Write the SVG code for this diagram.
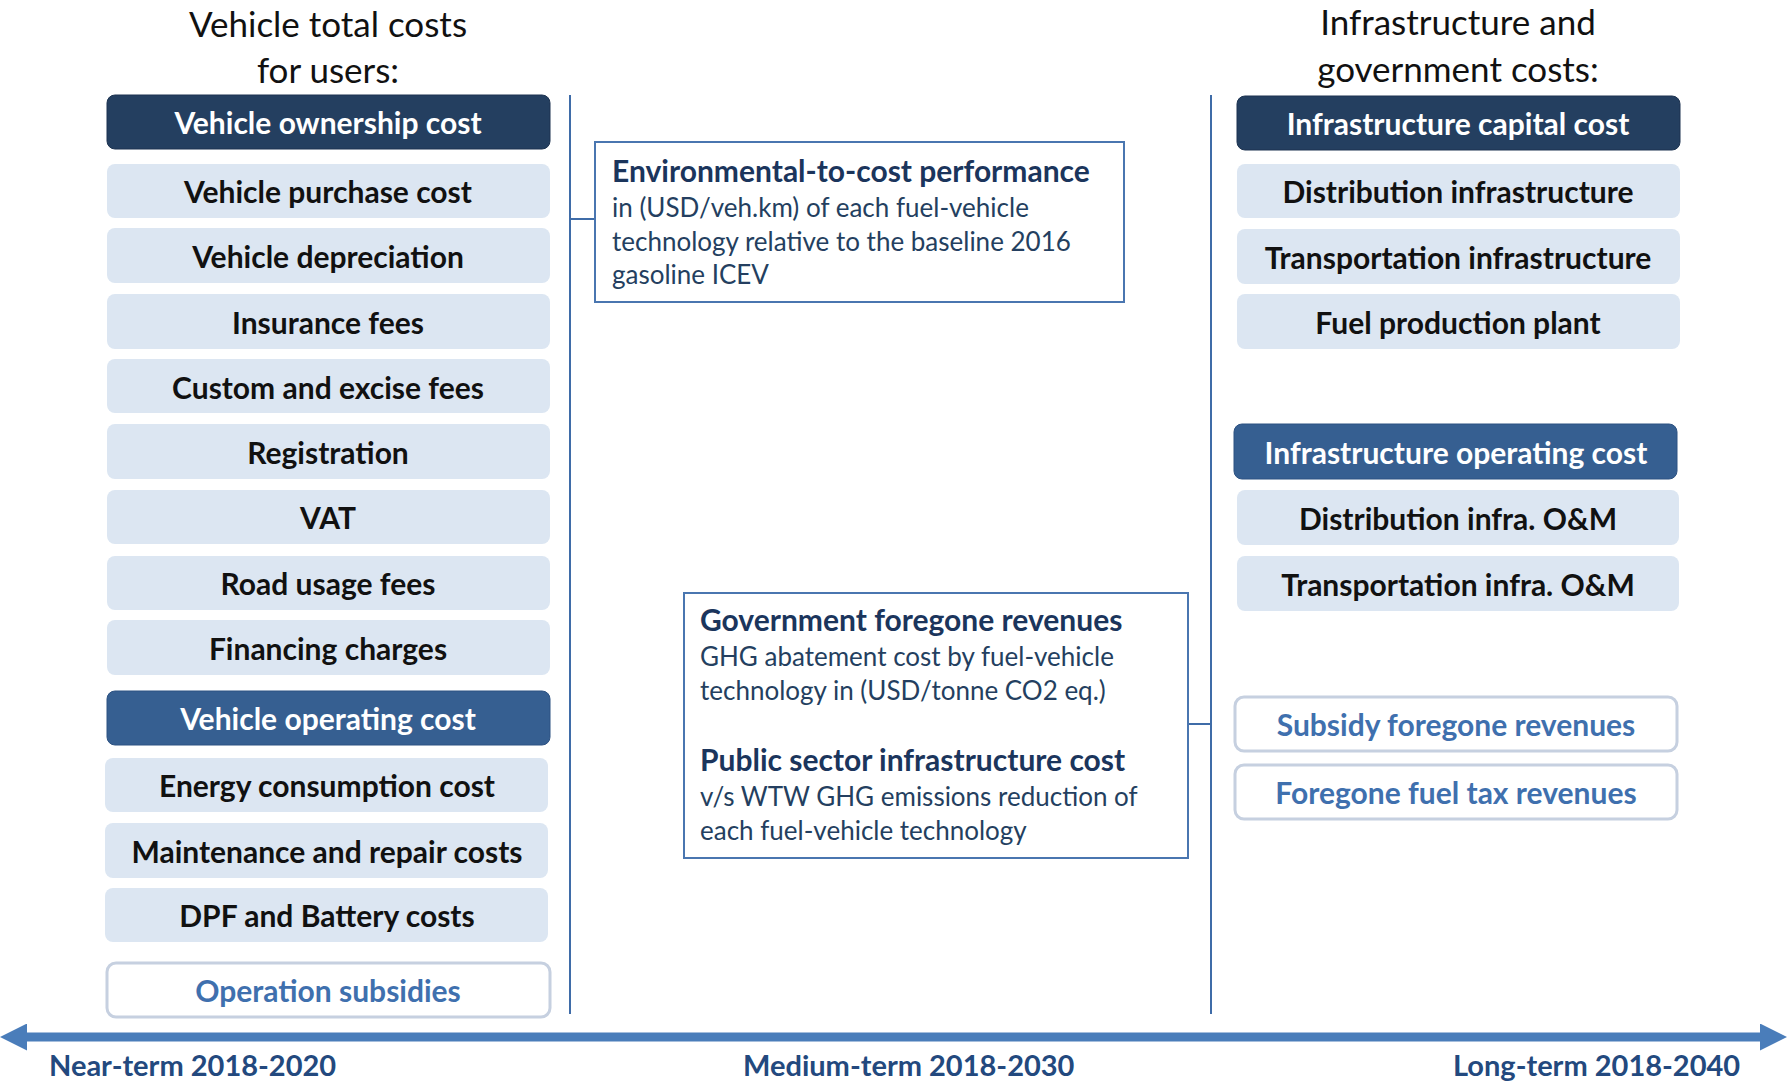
<svg xmlns="http://www.w3.org/2000/svg" width="1787" height="1081" viewBox="0 0 1787 1081">
  <style>
    text { font-family: Lato, "Open Sans", "Liberation Sans", sans-serif; }
    .title { font-size: 35px; fill: #111; text-anchor: middle; }
    .lbl { font-size: 30px; font-weight: 700; text-anchor: middle; dominant-baseline: central; }
    .dark rect { fill: #243f60; stroke: #1d3350; stroke-width: 1; }
    .mid rect { fill: #365f91; stroke: #2d5282; stroke-width: 1; }
    .dark text, .mid text { fill: #ffffff; }
    .light rect { fill: #dce6f2; }
    .light text { fill: #111111; }
    .outline rect { fill: #ffffff; stroke: #c6d0e0; stroke-width: 3; }
    .outline text { fill: #3f70ae; }
    .note rect { fill: #ffffff; stroke: #4a76b0; stroke-width: 2; }
    .note .h { font-size: 30px; font-weight: 700; fill: #1b355c; }
    .note .b { font-size: 26px; fill: #243f60; }
    .axis { font-size: 29px; font-weight: 700; fill: #23497e; }
    .conn { stroke: #3f6ca8; stroke-width: 2; fill: none; }
  </style>
  <defs>
    <!-- timeline arrowheads: base sits on the line end, tip extends outward -->
    <marker id="arrowR" viewBox="0 0 10 10" refX="0" refY="5" markerWidth="3" markerHeight="3" markerUnits="strokeWidth" orient="auto">
      <path d="M0,0 L10,5 L0,10 Z" fill="#4a7dba"/>
    </marker>
    <marker id="arrowL" viewBox="0 0 10 10" refX="0" refY="5" markerWidth="3" markerHeight="3" markerUnits="strokeWidth" orient="auto-start-reverse">
      <path d="M0,0 L10,5 L0,10 Z" fill="#4a7dba"/>
    </marker>
  </defs>

  <rect width="1787" height="1081" fill="#ffffff"/>

  <!-- column headings -->
  <text class="title" x="328" y="37">Vehicle total costs</text>
  <text class="title" x="328" y="83">for users:</text>
  <text class="title" x="1458" y="35">Infrastructure and</text>
  <text class="title" x="1458" y="82">government costs:</text>

  <!-- connectors -->
  <g id="connectors">
    <line class="conn" x1="570" y1="95" x2="570" y2="1014"/>
    <line class="conn" x1="1211" y1="95" x2="1211" y2="1014"/>
    <line class="conn" x1="570" y1="219" x2="595" y2="219"/>
    <line class="conn" x1="1211" y1="724" x2="1188" y2="724"/>
    <line x1="27" y1="1037" x2="1760" y2="1037" stroke="#4a7dba" stroke-width="9" marker-start="url(#arrowL)" marker-end="url(#arrowR)"/>
  </g>

  <!-- user cost column -->
  <g id="vehicle-ownership-cost" class="dark"><rect x="107" y="95" width="443" height="54" rx="8"/><text class="lbl" x="328" y="122">Vehicle ownership cost</text></g>
  <g id="vehicle-purchase-cost" class="light"><rect x="107" y="164" width="443" height="54" rx="8"/><text class="lbl" x="328" y="191">Vehicle purchase cost</text></g>
  <g id="vehicle-depreciation" class="light"><rect x="107" y="228" width="443" height="55" rx="8"/><text class="lbl" x="328" y="256">Vehicle depreciation</text></g>
  <g id="insurance-fees" class="light"><rect x="107" y="294" width="443" height="55" rx="8"/><text class="lbl" x="328" y="322">Insurance fees</text></g>
  <g id="custom-excise-fees" class="light"><rect x="107" y="359" width="443" height="54" rx="8"/><text class="lbl" x="328" y="387">Custom and excise fees</text></g>
  <g id="registration" class="light"><rect x="107" y="424" width="443" height="55" rx="8"/><text class="lbl" x="328" y="452">Registration</text></g>
  <g id="vat" class="light"><rect x="107" y="490" width="443" height="54" rx="8"/><text class="lbl" x="328" y="517">VAT</text></g>
  <g id="road-usage-fees" class="light"><rect x="107" y="556" width="443" height="54" rx="8"/><text class="lbl" x="328" y="583">Road usage fees</text></g>
  <g id="financing-charges" class="light"><rect x="107" y="620" width="443" height="55" rx="8"/><text class="lbl" x="328" y="648">Financing charges</text></g>
  <g id="vehicle-operating-cost" class="mid"><rect x="107" y="691" width="443" height="54" rx="8"/><text class="lbl" x="328" y="718">Vehicle operating cost</text></g>
  <g id="energy-consumption-cost" class="light"><rect x="105" y="758" width="443" height="54" rx="8"/><text class="lbl" x="327" y="785">Energy consumption cost</text></g>
  <g id="maintenance-repair-costs" class="light"><rect x="105" y="823" width="443" height="55" rx="8"/><text class="lbl" x="327" y="851">Maintenance and repair costs</text></g>
  <g id="dpf-battery-costs" class="light"><rect x="105" y="888" width="443" height="54" rx="8"/><text class="lbl" x="327" y="915">DPF and Battery costs</text></g>
  <g id="operation-subsidies" class="outline"><rect x="107" y="963" width="443" height="54" rx="9"/><text class="lbl" x="328" y="990">Operation subsidies</text></g>

  <!-- infrastructure and government column -->
  <g id="infrastructure-capital-cost" class="dark"><rect x="1237" y="96" width="443" height="54" rx="8"/><text class="lbl" x="1458" y="123">Infrastructure capital cost</text></g>
  <g id="distribution-infrastructure" class="light"><rect x="1237" y="164" width="443" height="54" rx="8"/><text class="lbl" x="1458" y="191">Distribution infrastructure</text></g>
  <g id="transportation-infrastructure" class="light"><rect x="1237" y="229" width="443" height="55" rx="8"/><text class="lbl" x="1458" y="257">Transportation infrastructure</text></g>
  <g id="fuel-production-plant" class="light"><rect x="1237" y="294" width="443" height="55" rx="8"/><text class="lbl" x="1458" y="322">Fuel production plant</text></g>
  <g id="infrastructure-operating-cost" class="mid"><rect x="1234" y="424" width="443" height="55" rx="8"/><text class="lbl" x="1456" y="452">Infrastructure operating cost</text></g>
  <g id="distribution-om" class="light"><rect x="1237" y="490" width="442" height="55" rx="8"/><text class="lbl" x="1458" y="518">Distribution infra. O&amp;M</text></g>
  <g id="transportation-om" class="light"><rect x="1237" y="556" width="442" height="55" rx="8"/><text class="lbl" x="1458" y="584">Transportation infra. O&amp;M</text></g>
  <g id="subsidy-foregone-revenues" class="outline"><rect x="1235" y="697" width="442" height="54" rx="9"/><text class="lbl" x="1456" y="724">Subsidy foregone revenues</text></g>
  <g id="foregone-fuel-tax-revenues" class="outline"><rect x="1235" y="765" width="442" height="54" rx="9"/><text class="lbl" x="1456" y="792">Foregone fuel tax revenues</text></g>

  <!-- indicator notes -->
  <g id="environmental-to-cost" class="note">
    <rect x="595" y="142" width="529" height="160"/>
    <text class="h" x="612" y="182">Environmental-to-cost performance</text>
    <text class="b" x="612" y="217">in (USD/veh.km) of each fuel-vehicle</text>
    <text class="b" x="612" y="251">technology relative to the baseline 2016</text>
    <text class="b" x="612" y="284">gasoline ICEV</text>
  </g>
  <g id="government-indicators" class="note">
    <rect x="684" y="593" width="504" height="265"/>
    <text class="h" x="700" y="631">Government foregone revenues</text>
    <text class="b" x="700" y="666">GHG abatement cost by fuel-vehicle</text>
    <text class="b" x="700" y="700">technology in (USD/tonne CO2 eq.)</text>
    <text class="h" x="700" y="771">Public sector infrastructure cost</text>
    <text class="b" x="700" y="806">v/s WTW GHG emissions reduction of</text>
    <text class="b" x="700" y="840">each fuel-vehicle technology</text>
  </g>

  <!-- time horizon labels -->
  <text class="axis" x="49" y="1076">Near-term 2018-2020</text>
  <text class="axis" x="743" y="1076">Medium-term 2018-2030</text>
  <text class="axis" x="1453" y="1076">Long-term 2018-2040</text>
</svg>
